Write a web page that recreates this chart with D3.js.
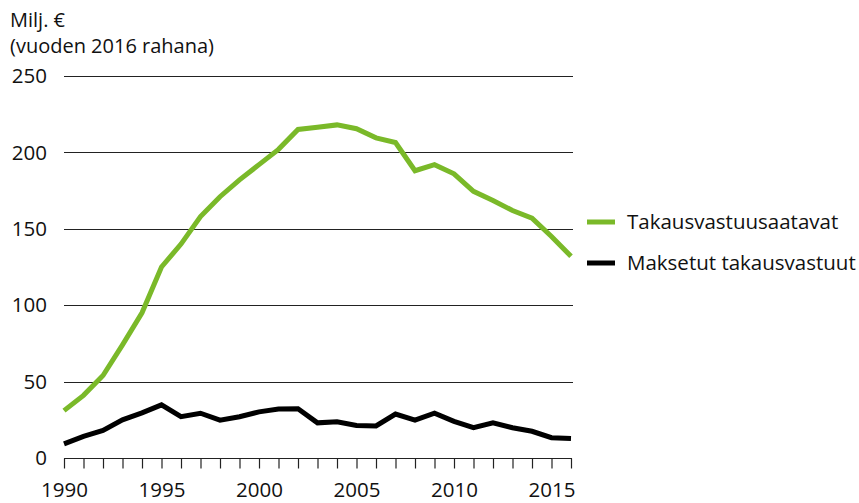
<!DOCTYPE html>
<html><head><meta charset="utf-8">
<script src="https://cdn.jsdelivr.net/npm/d3@7/dist/d3.min.js"></script>
<style>
body{margin:0;background:#fff;}
text{font-family:"Open Sans","Noto Sans",sans-serif;fill:#111;}
</style></head>
<body>
<svg id="c" width="859" height="503"></svg>
<script>
const years = d3.range(1990, 2017);
const takausvastuusaatavat = [31, 41, 54, 74, 95, 125, 140, 158, 171, 182, 192, 202, 215, 216.5, 218, 215.5, 209.5, 206.5, 188, 192, 186, 174.5, 168.5, 162, 157, 145, 132];
const maksetut = [9.2, 14.2, 18, 25, 29.5, 34.8, 27, 29.3, 24.8, 27, 30.2, 32, 32.2, 23, 23.7, 21.3, 21, 28.8, 24.8, 29.3, 24, 19.8, 23, 19.8, 17.5, 13.3, 12.8];
const yTicks = [0, 50, 100, 150, 200, 250];
const xLabelYears = [1990, 1995, 2000, 2005, 2010, 2015];
const seriesNames = ["Takausvastuusaatavat", "Maksetut takausvastuut"];
const seriesColors = ["#7ab929", "#000000"];
const titleLines = ["Milj. €", "(vuoden 2016 rahana)"];
const FS = "20.5px";

const svg = d3.select("#c");
const x = d3.scaleLinear().domain([1990, 2016]).range([64, 571]);
const y = d3.scaleLinear().domain([0, 250]).range([458, 76]);

// title
svg.append("g").selectAll("text").data(titleLines).join("text")
  .attr("x", 10).attr("y", (d, i) => 27 + i * 26)
  .style("font-size", "20px").text(d => d);

// grid
svg.append("g").selectAll("line").data(yTicks.filter(d => d > 0)).join("line")
  .attr("x1", 64).attr("x2", 573)
  .attr("y1", d => Math.round(y(d)) + 0.5).attr("y2", d => Math.round(y(d)) + 0.5)
  .attr("stroke", "#222").attr("stroke-width", 1.2);

// y labels
svg.append("g").selectAll("text").data(yTicks).join("text")
  .attr("x", 47).attr("y", d => y(d)).attr("dy", "0.35em")
  .attr("text-anchor", "end").style("font-size", FS).text(d => d);

// x axis
const xAxis = d3.axisBottom(x).tickValues(years).tickSize(10).tickSizeOuter(0)
  .tickFormat(d => xLabelYears.includes(d) ? d : "");
const gx = svg.append("g").attr("transform", `translate(0,${Math.round(y(0)) + 0.5})`).call(xAxis);
gx.select(".domain").attr("stroke", "#222").attr("stroke-width", 1.2).attr("d", `M${x(1990)},0H${x(2016)+1}`);
gx.selectAll(".tick line").attr("stroke", "#222").attr("stroke-width", 1.2);
gx.selectAll(".tick text").style("font-size", FS).attr("y", 24).attr("fill", "#111")
  .style("font-family", '"Open Sans","Noto Sans",sans-serif');

// lines
const line = d3.line().x((d, i) => x(years[i])).y(d => y(d));
[takausvastuusaatavat, maksetut].forEach((s, k) => {
  svg.append("path").datum(s).attr("d", line).attr("fill", "none")
    .attr("stroke", seriesColors[k]).attr("stroke-width", 5)
    .attr("stroke-linejoin", "miter");
});

// legend
const lg = svg.append("g").selectAll("g").data(seriesNames).join("g")
  .attr("transform", (d, i) => `translate(587,${222 + i * 41})`);
lg.append("line").attr("x1", 0).attr("x2", 28).attr("stroke", (d, i) => seriesColors[i]).attr("stroke-width", 5);
lg.append("text").attr("x", 40).attr("dy", "0.35em").style("font-size", FS).text(d => d);
</script>
</body></html>
